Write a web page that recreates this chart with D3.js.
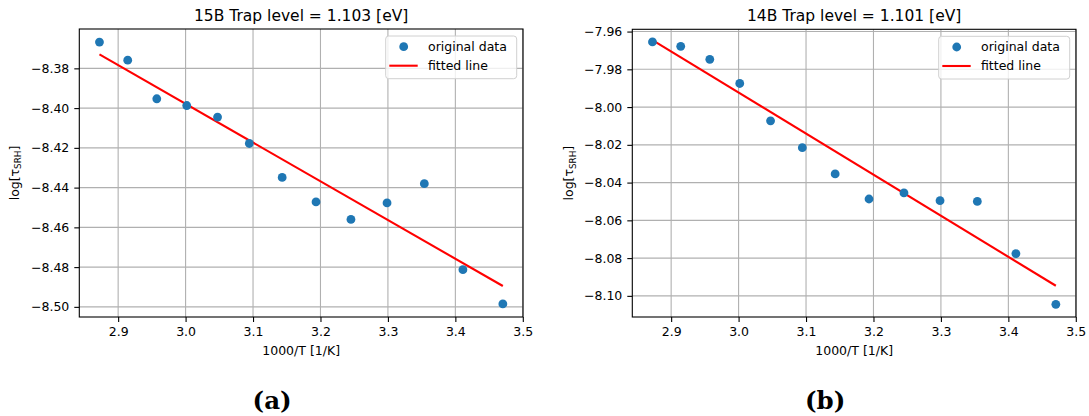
<!DOCTYPE html>
<html>
<head>
<meta charset="utf-8">
<script src="https://cdn.jsdelivr.net/npm/d3@7"></script>
<style>
  body { margin: 0; background: #fff; }
  text { font-family: "DejaVu Sans", sans-serif; fill: #000; }
</style>
</head>
<body>
<svg id="fig" width="1089" height="416"></svg>
<script>
// Inverse temperature 1000/T [1/K]
const invT = [2.8723, 2.9142, 2.9573, 3.0017, 3.0474, 3.0945, 3.1432,
              3.1934, 3.2452, 3.2987, 3.3540, 3.4112, 3.4704];
// log of SRH lifetime, sample 15B
const logTau15B = [-8.3668, -8.3759, -8.3953, -8.3987, -8.4045, -8.4178, -8.4349,
                   -8.4472, -8.4560, -8.4477, -8.4380, -8.4813, -8.4985];
// log of SRH lifetime, sample 14B
const logTau14B = [-7.9655, -7.9678, -7.9747, -7.9875, -8.0073, -8.0215, -8.0354,
                   -8.0487, -8.0455, -8.0496, -8.0500, -8.0776, -8.1045];

const xTicks = [2.9, 3.0, 3.1, 3.2, 3.3, 3.4, 3.5];
const yTicks15B = [-8.38, -8.40, -8.42, -8.44, -8.46, -8.48, -8.50];
const yTicks14B = [-7.96, -7.98, -8.00, -8.02, -8.04, -8.06, -8.08, -8.10];
const xLimits = [2.8424, 3.5003];
const yLimits15B = [-8.5051, -8.3602];
const yLimits14B = [-8.1112, -7.9588];

const titles = ["15B Trap level = 1.103 [eV]", "14B Trap level = 1.101 [eV]"];
const panelLabels = ["(a)", "(b)"];
const legendLabels = ["original data", "fitted line"];
const xLabel = "1000/T [1/K]";

const svg = d3.select("#fig");
const BLUE = "#1f77b4", RED = "#ff0000", GRID = "#b0b0b0";

// Ordinary least-squares line through the points, evaluated at both ends
function fitLine(xs, ys) {
  const mx = d3.mean(xs), my = d3.mean(ys);
  let sxy = 0, sxx = 0;
  xs.forEach((x, i) => { sxy += (x - mx) * (ys[i] - my); sxx += (x - mx) ** 2; });
  const b = sxy / sxx, a = my - b * mx;
  const x0 = d3.min(xs), x1 = d3.max(xs);
  return [[x0, a + b * x0], [x1, a + b * x1]];
}

const panels = [
  { left: 79.3, top: 29, width: 443.7, height: 288, ys: logTau15B,
    yTicks: yTicks15B, yLim: yLimits15B, title: titles[0], label: panelLabels[0],
    ylabX: 18.5 },
  { left: 632.3, top: 29.3, width: 443.7, height: 287.7, ys: logTau14B,
    yTicks: yTicks14B, yLim: yLimits14B, title: titles[1], label: panelLabels[1],
    ylabX: 573 }
];

panels.forEach(p => {
  const x = d3.scaleLinear().domain(xLimits).range([p.left, p.left + p.width]);
  const y = d3.scaleLinear().domain(p.yLim).range([p.top + p.height, p.top]);
  const g = svg.append("g");

  // grid
  g.append("g").selectAll("line").data(xTicks).join("line")
    .attr("x1", d => x(d)).attr("x2", d => x(d))
    .attr("y1", p.top).attr("y2", p.top + p.height)
    .attr("stroke", GRID).attr("stroke-width", 1.1);
  g.append("g").selectAll("line").data(p.yTicks).join("line")
    .attr("y1", d => y(d)).attr("y2", d => y(d))
    .attr("x1", p.left).attr("x2", p.left + p.width)
    .attr("stroke", GRID).attr("stroke-width", 1.1);

  // axes
  const ax = g.append("g").attr("transform", `translate(0,${p.top + p.height})`)
    .call(d3.axisBottom(x).tickValues(xTicks).tickFormat(d3.format(".1f"))
      .tickSize(5).tickSizeOuter(0).tickPadding(5));
  const ay = g.append("g").attr("transform", `translate(${p.left},0)`)
    .call(d3.axisLeft(y).tickValues(p.yTicks).tickFormat(d3.format(".2f"))
      .tickSize(5).tickSizeOuter(0).tickPadding(5));
  [ax, ay].forEach(a => {
    a.select(".domain").remove();
    a.selectAll(".tick line").attr("stroke", "#000").attr("stroke-width", 1.1);
    a.selectAll(".tick text").attr("font-size", 12.5)
      .attr("font-family", "DejaVu Sans").attr("fill", "#000");
  });

  // fitted line
  const fit = fitLine(invT, p.ys);
  g.append("path").datum(fit)
    .attr("d", d3.line().x(d => x(d[0])).y(d => y(d[1])))
    .attr("stroke", RED).attr("stroke-width", 2.1).attr("fill", "none");

  // data points
  g.append("g").selectAll("circle").data(invT).join("circle")
    .attr("cx", d => x(d)).attr("cy", (d, i) => y(p.ys[i]))
    .attr("r", 4.4).attr("fill", BLUE);

  // spines
  g.append("rect").attr("x", p.left).attr("y", p.top)
    .attr("width", p.width).attr("height", p.height)
    .attr("fill", "none").attr("stroke", "#000").attr("stroke-width", 1.1);

  // legend
  const lx = p.left + p.width - 137.3, ly = p.top + 7;
  const lg = g.append("g").attr("transform", `translate(${lx},${ly})`);
  lg.append("rect").attr("width", 131).attr("height", 42.7).attr("rx", 3)
    .attr("fill", "#fff").attr("fill-opacity", 0.8)
    .attr("stroke", "#d0d0d0").attr("stroke-width", 1);
  lg.append("circle").attr("cx", 18).attr("cy", 10.7).attr("r", 4.4).attr("fill", BLUE);
  lg.append("line").attr("x1", 3.6).attr("x2", 32).attr("y1", 29.7).attr("y2", 29.7)
    .attr("stroke", RED).attr("stroke-width", 2.1);
  lg.selectAll("text.lab").data(legendLabels).join("text").attr("class", "lab")
    .attr("x", 42.3).attr("y", (d, i) => 10.7 + i * 19 + 4.5)
    .attr("font-size", 12.5).text(d => d);

  // title
  const cx = p.left + p.width / 2;
  g.append("text").attr("x", cx).attr("y", 21).attr("text-anchor", "middle")
    .attr("font-size", 15.5).text(p.title);

  // x label
  g.append("text").attr("x", cx).attr("y", 355).attr("text-anchor", "middle")
    .attr("font-size", 12.5).text(xLabel);

  // y label: log[τ_SRH]
  const yl = g.append("text")
    .attr("transform", `translate(${p.ylabX},${p.top + p.height / 2}) rotate(-90)`)
    .attr("text-anchor", "middle").attr("font-size", 12.5);
  yl.append("tspan").text("log[τ");
  yl.append("tspan").attr("font-size", 8.8).attr("dy", 2.5).text("SRH");
  yl.append("tspan").attr("dy", -2.5).text("]");

  // subfigure label
  g.append("text").attr("x", cx - 29).attr("y", 409).attr("text-anchor", "middle")
    .style("font-family", "'DejaVu Serif', serif").attr("font-weight", "bold")
    .attr("font-size", 24.5).text(p.label);
});
</script>
</body>
</html>
